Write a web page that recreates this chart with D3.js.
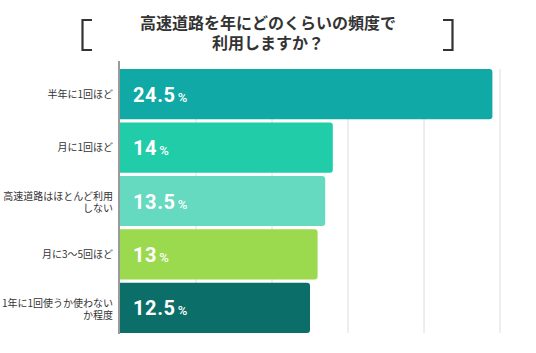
<!DOCTYPE html>
<html><head><meta charset="utf-8">
<script src="https://cdn.jsdelivr.net/npm/d3@7/dist/d3.min.js"></script>
<style>body{margin:0;background:#fff;}svg{display:block;}</style>
</head><body>
<svg id="chart" width="536" height="353"></svg>
<script>
const titleLines = ["高速道路を年にどのくらいの頻度で", "利用しますか？"];
const categories = [["半年に1回ほど"], ["月に1回ほど"], ["高速道路はほとんど利用", "しない"], ["月に3〜5回ほど"], ["1年に1回使うか使わない", "か程度"]];
const values = [24.5, 14, 13.5, 13, 12.5];
const valueLabels = ["24.5", "14", "13.5", "13", "12.5"];
const colors = ["#10a9a5", "#21cca8", "#66d9c1", "#9bd94f", "#0b6e69"];
const gridTicks = [0, 5, 10, 15, 20, 25];

const svg = d3.select("#chart");
const plotLeft = 120, plotRight = 500, plotTop = 68, plotBottom = 334;
const x = d3.scaleLinear().domain([0, 25]).range([plotLeft, plotRight]);
const y = d3.scaleBand().domain(d3.range(values.length)).range([plotTop, plotBottom]).paddingInner(0.06).paddingOuter(0.02);
const jp = "'Noto Sans CJK JP', 'Noto Sans', sans-serif";

// title
const title = svg.append("text").attr("text-anchor", "middle").attr("font-family", jp)
  .attr("font-weight", "bold").attr("font-size", 16).attr("fill", "#333");
titleLines.forEach((t, i) => title.append("tspan").attr("x", 268).attr("y", 28.5 + i * 20.5).text(t));
// brackets
svg.append("path").attr("d", "M92,20 L82.5,20 L82.5,50 L92,50").attr("fill", "none").attr("stroke", "#333").attr("stroke-width", 2.2);
svg.append("path").attr("d", "M443,20 L452.5,20 L452.5,50 L443,50").attr("fill", "none").attr("stroke", "#333").attr("stroke-width", 2.2);

// grid
svg.append("g").selectAll("line").data(gridTicks.slice(1)).join("line")
  .attr("x1", d => x(d)).attr("x2", d => x(d)).attr("y1", 69).attr("y2", 333)
  .attr("stroke", "#dcdcdc").attr("stroke-width", 1);

// bars with rounded right corners
const r = 3;
svg.append("g").selectAll("path").data(values).join("path")
  .attr("fill", (d, i) => colors[i])
  .attr("d", (d, i) => {
    const x0 = x(0), x1 = x(d), y0 = y(i), h = y.bandwidth();
    return `M${x0},${y0} H${x1 - r} Q${x1},${y0} ${x1},${y0 + r} V${y0 + h - r} Q${x1},${y0 + h} ${x1 - r},${y0 + h} H${x0} Z`;
  });

// axis line
svg.append("line").attr("x1", 119).attr("x2", 119).attr("y1", 61).attr("y2", 334)
  .attr("stroke", "#9a9a9a").attr("stroke-width", 2);

// value labels
const vl = svg.append("g").selectAll("text").data(values).join("text")
  .attr("x", 133).attr("y", (d, i) => y(i) + y.bandwidth() / 2 + 7.5)
  .attr("font-family", "Roboto, sans-serif").attr("font-weight", "bold").attr("fill", "#fff");
vl.append("tspan").attr("font-size", 20).attr("letter-spacing", 0.6).text((d, i) => valueLabels[i]);
vl.append("tspan").attr("font-size", 13).attr("font-weight", "500").attr("dx", 2).text("%");

// category labels
svg.append("g").selectAll("text").data(categories).join("text")
  .attr("text-anchor", "end").attr("font-family", jp).attr("font-size", 10).attr("fill", "#333")
  .each(function (lines, i) {
    const cy = y(i) + y.bandwidth() / 2;
    const t = d3.select(this);
    lines.forEach((ln, j) => {
      const yy = lines.length === 1 ? cy + 3.5 : cy - 1 + j * 12;
      t.append("tspan").attr("x", 113).attr("y", yy).text(ln);
    });
  });
</script>
</body></html>
